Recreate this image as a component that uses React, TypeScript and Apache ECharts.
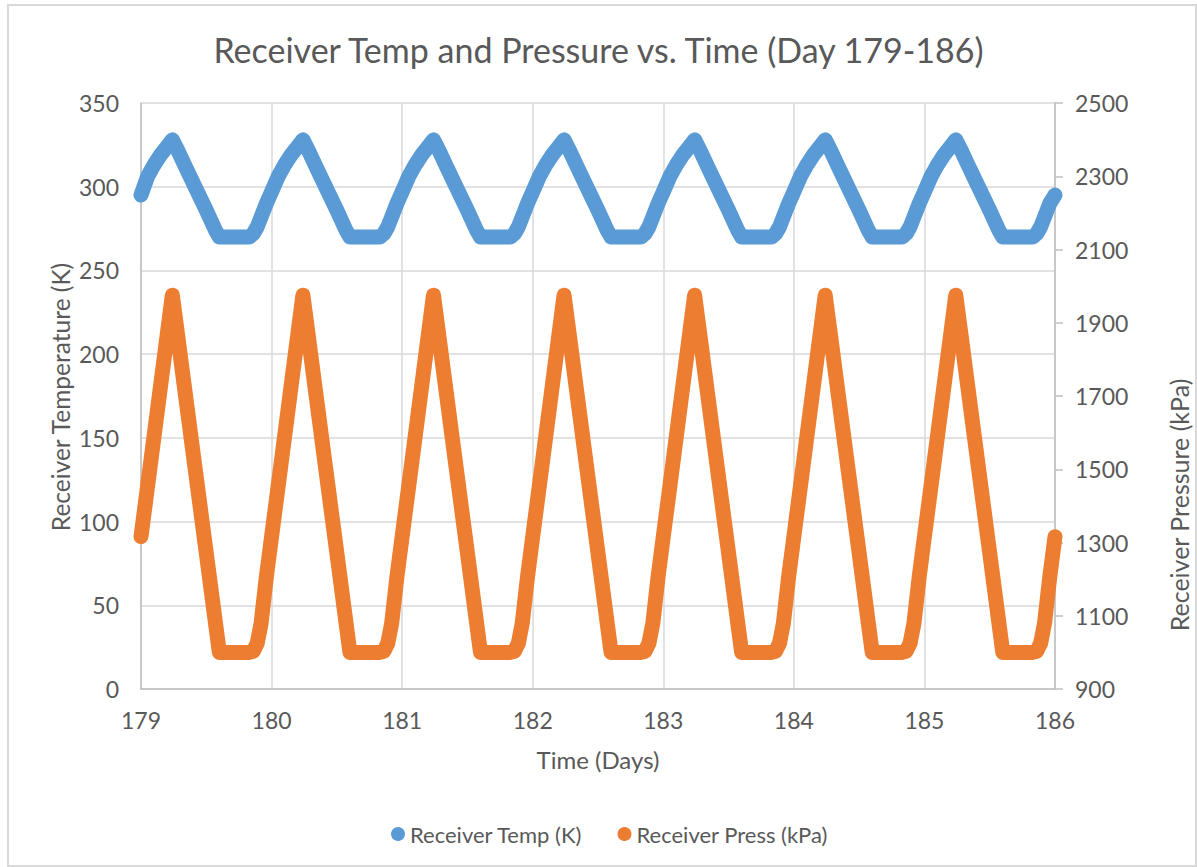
import React, { useEffect, useRef } from "react";
import * as echarts from "echarts";

const chartTitle = "Receiver Temp and Pressure vs. Time (Day 179-186)";
const xAxisName = "Time (Days)";
const leftAxisName = "Receiver Temperature (K)";
const rightAxisName = "Receiver Pressure (kPa)";
const tempName = "Receiver Temp (K)";
const pressName = "Receiver Press (kPa)";

const timeDays = [
  179, 179.05, 179.1, 179.15, 179.2, 179.24, 179.28, 179.34, 179.42, 179.5, 179.57, 179.6, 179.83, 179.86, 179.89, 179.92, 179.96,
  180, 180.05, 180.1, 180.15, 180.2, 180.24, 180.28, 180.34, 180.42, 180.5, 180.57, 180.6, 180.83, 180.86, 180.89, 180.92, 180.96,
  181, 181.05, 181.1, 181.15, 181.2, 181.24, 181.28, 181.34, 181.42, 181.5, 181.57, 181.6, 181.83, 181.86, 181.89, 181.92, 181.96,
  182, 182.05, 182.1, 182.15, 182.2, 182.24, 182.28, 182.34, 182.42, 182.5, 182.57, 182.6, 182.83, 182.86, 182.89, 182.92, 182.96,
  183, 183.05, 183.1, 183.15, 183.2, 183.24, 183.28, 183.34, 183.42, 183.5, 183.57, 183.6, 183.83, 183.86, 183.89, 183.92, 183.96,
  184, 184.05, 184.1, 184.15, 184.2, 184.24, 184.28, 184.34, 184.42, 184.5, 184.57, 184.6, 184.83, 184.86, 184.89, 184.92, 184.96,
  185, 185.05, 185.1, 185.15, 185.2, 185.24, 185.28, 185.34, 185.42, 185.5, 185.57, 185.6, 185.83, 185.86, 185.89, 185.92, 185.96,
  186,
];

const tempK = [
  295, 306, 313, 319, 324, 328, 322, 312, 299, 286, 274, 270, 270, 272, 276, 282, 290,
  297, 306, 313, 319, 324, 328, 322, 312, 299, 286, 274, 270, 270, 272, 276, 282, 290,
  297, 306, 313, 319, 324, 328, 322, 312, 299, 286, 274, 270, 270, 272, 276, 282, 290,
  297, 306, 313, 319, 324, 328, 322, 312, 299, 286, 274, 270, 270, 272, 276, 282, 290,
  297, 306, 313, 319, 324, 328, 322, 312, 299, 286, 274, 270, 270, 272, 276, 282, 290,
  297, 306, 313, 319, 324, 328, 322, 312, 299, 286, 274, 270, 270, 272, 276, 282, 290,
  297, 306, 313, 319, 324, 328, 322, 312, 299, 286, 274, 270, 270, 272, 276, 282, 290,
  295,
];

const pressKPa = [
  1316, 1453, 1590, 1728, 1865, 1975, 1867, 1704, 1487, 1271, 1081, 1000, 1000, 1003, 1025, 1080, 1206,
  1316, 1453, 1590, 1728, 1865, 1975, 1867, 1704, 1487, 1271, 1081, 1000, 1000, 1003, 1025, 1080, 1206,
  1316, 1453, 1590, 1728, 1865, 1975, 1867, 1704, 1487, 1271, 1081, 1000, 1000, 1003, 1025, 1080, 1206,
  1316, 1453, 1590, 1728, 1865, 1975, 1867, 1704, 1487, 1271, 1081, 1000, 1000, 1003, 1025, 1080, 1206,
  1316, 1453, 1590, 1728, 1865, 1975, 1867, 1704, 1487, 1271, 1081, 1000, 1000, 1003, 1025, 1080, 1206,
  1316, 1453, 1590, 1728, 1865, 1975, 1867, 1704, 1487, 1271, 1081, 1000, 1000, 1003, 1025, 1080, 1206,
  1316, 1453, 1590, 1728, 1865, 1975, 1867, 1704, 1487, 1271, 1081, 1000, 1000, 1003, 1025, 1080, 1206,
  1316,
];

const FONT = "Lato, 'Open Sans', sans-serif";
const TEXT = "#595959";
const GRID = "#d9d9d9";
const AXIS = "#bfbfbf";
const BLUE = "#5b9bd5";
const ORANGE = "#ed7d31";

export default function App() {
  const ref = useRef<HTMLDivElement>(null);

  useEffect(() => {
    if (!ref.current) return;
    const chart = echarts.init(ref.current, null, { renderer: "svg" });
    const tempData = timeDays.map((d, i) => [d, tempK[i]]);
    const pressData = timeDays.map((d, i) => [d, pressKPa[i]]);
    chart.setOption({
      animation: false,
      backgroundColor: "#ffffff",
      textStyle: { fontFamily: FONT },
      title: {
        text: chartTitle,
        left: "center",
        top: 27,
        textStyle: { fontFamily: FONT, fontSize: 34, fontWeight: "normal", color: TEXT },
      },
      grid: { left: 141, right: 142, top: 103, bottom: 178 },
      legend: {
        left: 386,
        top: 818,
        icon: "circle",
        itemWidth: 14,
        itemHeight: 14,
        itemGap: 35,
        textStyle: { fontFamily: FONT, fontSize: 22, color: TEXT },
        data: [tempName, pressName],
      },
      xAxis: {
        type: "value",
        min: 179,
        max: 186,
        interval: 1,
        name: xAxisName,
        nameLocation: "middle",
        nameGap: 58,
        nameTextStyle: { fontFamily: FONT, fontSize: 24, color: TEXT },
        axisLine: { show: true, lineStyle: { color: AXIS, width: 1.5 } },
        axisTick: { show: false },
        axisLabel: { fontFamily: FONT, fontSize: 23, color: TEXT, margin: 19 },
        splitLine: { show: true, lineStyle: { color: GRID, width: 1.5 } },
      },
      yAxis: [
        {
          type: "value",
          min: 0,
          max: 350,
          interval: 50,
          position: "left",
          axisLine: { show: true, lineStyle: { color: AXIS, width: 1.5 } },
          axisTick: { show: false },
          axisLabel: { fontFamily: FONT, fontSize: 23, color: TEXT, margin: 22 },
          splitLine: { show: true, lineStyle: { color: GRID, width: 1.5 } },
        },
        {
          type: "value",
          min: 900,
          max: 2500,
          interval: 200,
          position: "right",
          axisLine: { show: true, lineStyle: { color: AXIS, width: 1.5 } },
          axisTick: { show: true, length: 8, inside: false, lineStyle: { color: AXIS, width: 1.5 } },
          axisLabel: {
            fontFamily: FONT,
            fontSize: 23,
            color: TEXT,
            margin: 20,
            formatter: (v: number) => String(v),
          },
          splitLine: { show: false },
        },
      ],
      graphic: [
        {
          type: "rect",
          shape: { x: 8, y: 5, width: 1188, height: 861 },
          style: { fill: "none", stroke: "#d9d9d9", lineWidth: 2 },
          silent: true,
        },
        {
          type: "text",
          x: 60,
          y: 397,
          rotation: Math.PI / 2,
          style: {
            text: leftAxisName,
            fontFamily: FONT,
            fontSize: 24.5,
            fill: TEXT,
            textAlign: "center",
            textVerticalAlign: "middle",
          },
        },
        {
          type: "text",
          x: 1179,
          y: 505,
          rotation: Math.PI / 2,
          style: {
            text: rightAxisName,
            fontFamily: FONT,
            fontSize: 25,
            fill: TEXT,
            textAlign: "center",
            textVerticalAlign: "middle",
          },
        },
      ],
      series: [
        {
          name: tempName,
          type: "line",
          yAxisIndex: 0,
          data: tempData,
          showSymbol: false,
          symbol: "circle",
          symbolSize: 14,
          itemStyle: { color: BLUE },
          lineStyle: { color: BLUE, width: 15, cap: "round", join: "round" },
        },
        {
          name: pressName,
          type: "line",
          yAxisIndex: 1,
          data: pressData,
          showSymbol: false,
          symbol: "circle",
          symbolSize: 14,
          itemStyle: { color: ORANGE },
          lineStyle: { color: ORANGE, width: 15, cap: "round", join: "round" },
        },
      ],
    });
    return () => chart.dispose();
  }, []);

  return (
    <div
      ref={ref}
      style={{ position: "fixed", left: 0, top: 0, width: 1197, height: 867, background: "#fff" }}
    />
  );
}
